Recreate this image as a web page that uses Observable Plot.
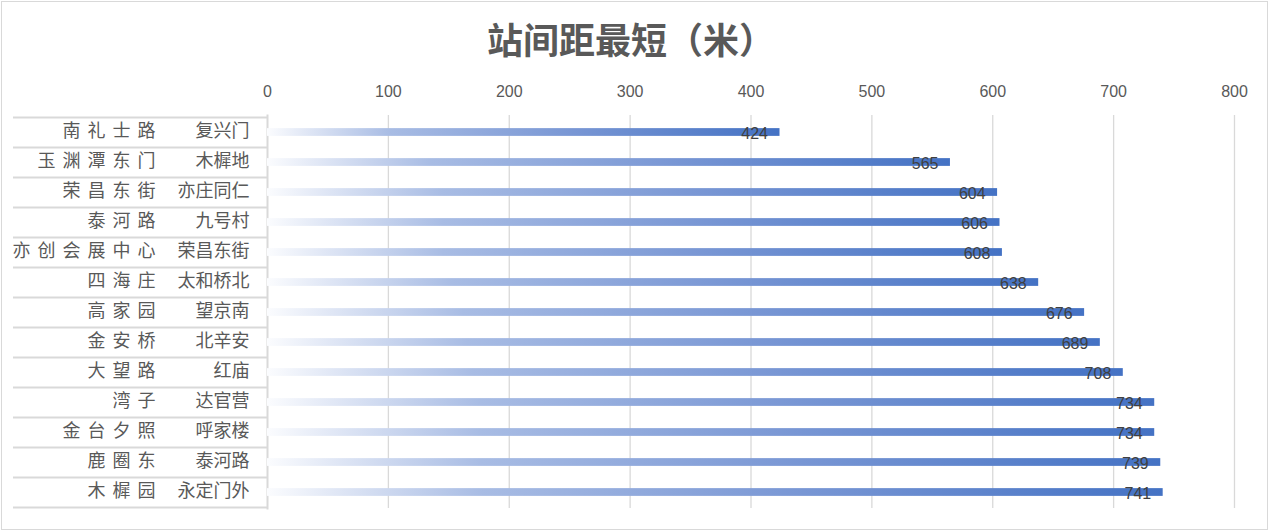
<!DOCTYPE html>
<html>
<head>
<meta charset="utf-8">
<script src="https://cdn.jsdelivr.net/npm/d3@7"></script>
<script src="https://cdn.jsdelivr.net/npm/@observablehq/plot@0.6"></script>
<style>
  html, body { margin: 0; padding: 0; background: #fff; }
  #wrap { position: relative; width: 1272px; height: 532px; overflow: hidden; background: #fff; }
  #border { position: absolute; left: 1px; top: 1px; width: 1267px; height: 529px; box-sizing: border-box; border: 1.5px solid #d9d9d9; }
  #title { position: absolute; left: 0; top: 20px; width: 1262px; text-align: center; font: bold 36px/1 "Noto Sans CJK SC", sans-serif; color: #595959; }
  #main, #table { position: absolute; left: 0; top: 0; }
</style>
</head>
<body>
<div id="wrap">
  <div id="border"></div>
  <div id="title">站间距最短（米）</div>
  <div id="table"></div>
  <div id="main"></div>
</div>
<script>
// ---- data ----
const stationA = ["南礼士路","玉渊潭东门","荣昌东街","泰河路","亦创会展中心","四海庄","高家园","金安桥","大望路","湾子","金台夕照","鹿圈东","木樨园"];
const stationB = ["复兴门","木樨地","亦庄同仁","九号村","荣昌东街","太和桥北","望京南","北辛安","红庙","达官营","呼家楼","泰河路","永定门外"];
const distances = [424,565,604,606,608,638,676,689,708,734,734,739,741];
const xTicks = [0,100,200,300,400,500,600,700,800];

const rows = stationA.map((a, i) => ({a, b: stationB[i], key: a + "—" + stationB[i], value: distances[i]}));
const keys = rows.map(d => d.key);

const H = 532, MT = 115, MB = 24;
const step = (H - MT - MB) / keys.length;
const numFont = "'Liberation Sans', Arial, sans-serif";
const cjkFont = "'Noto Sans CJK SC', sans-serif";

// ---- main chart ----
const main = Plot.plot({
  width: 1272, height: H,
  marginLeft: 267, marginRight: 38, marginTop: MT, marginBottom: MB,
  style: {background: "transparent", fontFamily: numFont, overflow: "visible"},
  x: {domain: [0, 800], axis: null, label: null},
  y: {domain: keys, axis: null, padding: 0, type: "band"},
  marks: [
    Plot.ruleX(xTicks.filter(t => t > 0), {stroke: "#d9d9d9", strokeWidth: 1.3}),
    Plot.axisX(xTicks, {anchor: "top", label: null, tickSize: 0, tickPadding: 19, fontSize: 16, fill: "#595959", fontFamily: numFont, tickFormat: d => String(d)}),
    Plot.barX(rows, {x: "value", y: "key", fill: "url(#barGrad)", insetTop: (step - 8) / 2, insetBottom: (step - 8) / 2}),
    Plot.text(rows, {x: "value", y: "key", text: d => String(d.value), textAnchor: "end", dx: -12, dy: 1, fontSize: 16, fill: "#404040", fontFamily: numFont})
  ]
});
const ns = "http://www.w3.org/2000/svg";
const defs = document.createElementNS(ns, "defs");
defs.innerHTML = `<linearGradient id="barGrad" x1="0" x2="1" y1="0" y2="0">
  <stop offset="0" stop-color="#fbfcfe"/>
  <stop offset="0.08" stop-color="#dfe6f5"/>
  <stop offset="0.24" stop-color="#a8bce4"/>
  <stop offset="0.6" stop-color="#7896d4"/>
  <stop offset="1" stop-color="#4472c4"/>
</linearGradient>`;
main.insertBefore(defs, main.firstChild);
document.getElementById("main").appendChild(main);

// ---- category table (two-level axis) ----
const table = Plot.plot({
  width: 268, height: H,
  marginLeft: 13, marginRight: 1, marginTop: MT, marginBottom: MB,
  style: {background: "transparent", fontFamily: cjkFont, overflow: "visible"},
  x: {axis: null},
  y: {domain: keys, axis: null, padding: 0, type: "band"},
  marks: [
    Plot.ruleY(keys, {dy: -step / 2, stroke: "#d9d9d9", strokeWidth: 2}),
    Plot.ruleY([keys[keys.length - 1]], {dy: step / 2, stroke: "#d9d9d9", strokeWidth: 2}),
    Plot.frame({anchor: "right", stroke: "#d9d9d9", strokeWidth: 2}),
    Plot.text(rows, {y: "key", text: "b", frameAnchor: "right", textAnchor: "end", dx: -18, dy: -1, fontSize: 18, fill: "#595959", fontFamily: cjkFont}),
    Plot.text(rows, {y: "key", text: "a", frameAnchor: "right", textAnchor: "end", dx: -105, dy: -1, fontSize: 18, fill: "#595959", fontFamily: cjkFont})
  ]
});
const textGroups = table.querySelectorAll('g[aria-label="text"]');
if (textGroups.length > 1) textGroups[1].style.letterSpacing = "7px";
document.getElementById("table").appendChild(table);
</script>
</body>
</html>
